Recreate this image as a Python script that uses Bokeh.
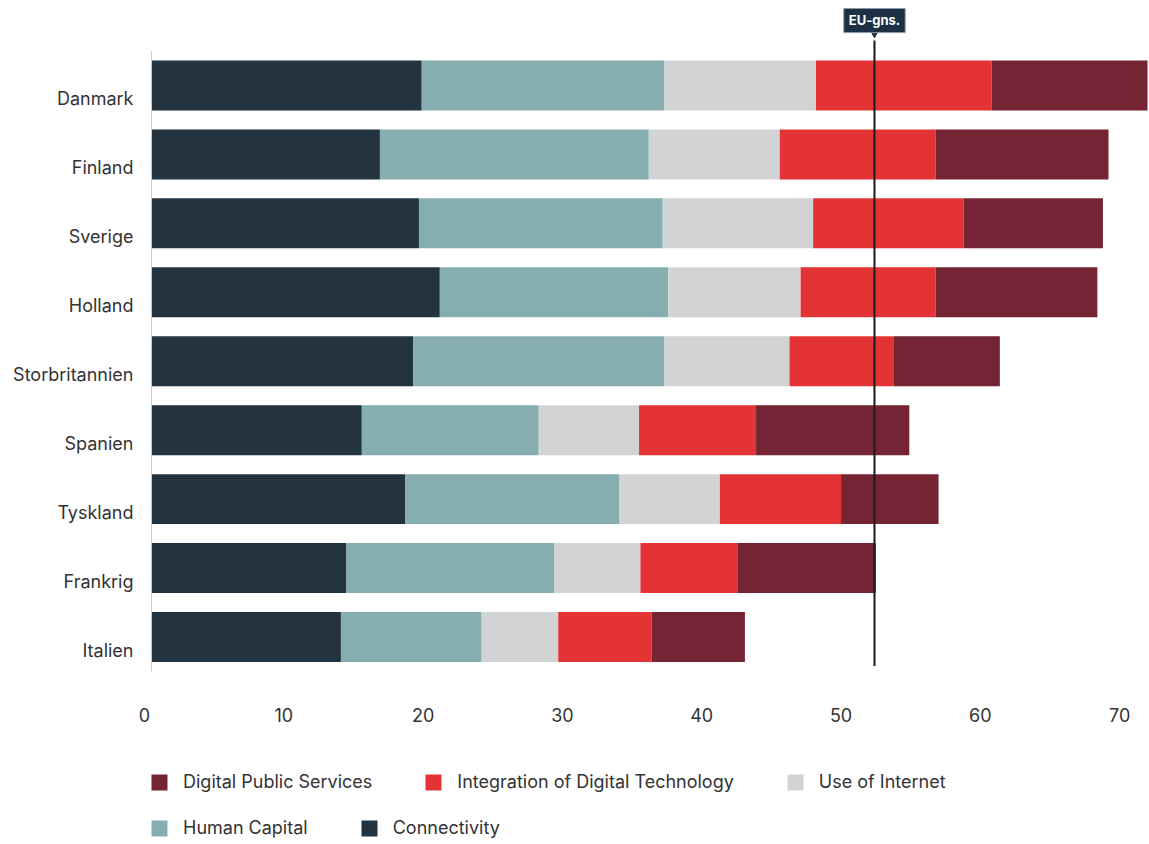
from bokeh.plotting import figure
from bokeh.layouts import column
from bokeh.models import (ColumnDataSource, Range1d, FixedTicker, Legend, LegendItem, Label)
from bokeh.embed import file_html
from bokeh.resources import INLINE

countries = ["Danmark", "Finland", "Sverige", "Holland", "Storbritannien",
             "Spanien", "Tyskland", "Frankrig", "Italien"]
connectivity = [19.4, 16.4, 19.2, 20.7, 18.8, 15.1, 18.2, 14.0, 13.6]
human_capital = [17.4, 19.3, 17.5, 16.4, 18.0, 12.7, 15.4, 14.9, 10.1]
use_of_internet = [10.9, 9.4, 10.8, 9.5, 9.0, 7.2, 7.2, 6.2, 5.5]
integration = [12.6, 11.2, 10.8, 9.7, 7.5, 8.4, 8.7, 7.0, 6.7]
public_services = [11.2, 12.4, 10.0, 11.6, 7.6, 11.0, 7.0, 9.9, 6.7]
eu_average = 51.9
x_ticks = [0, 10, 20, 30, 40, 50, 60, 70]

series_keys = ["conn", "hc", "use", "integ", "dps"]
series_names = ["Connectivity", "Human Capital", "Use of Internet",
                "Integration of Digital Technology", "Digital Public Services"]
colors = ["#233340", "#86aeb1", "#d2d3d5", "#e43334", "#752433"]

n = len(countries)
ypos = [n - 1 - i for i in range(n)]  # Danmark at top

source = ColumnDataSource(data=dict(
    y=ypos, conn=connectivity, hc=human_capital, use=use_of_internet,
    integ=integration, dps=public_services))

FONT = "Inter"
TXT = "#333333"
FS = "18px"

W = 1148
H1 = 735
LEFT = 144
p = figure(width=W, height=H1, output_backend="svg", toolbar_location=None,
           x_range=Range1d(-0.5, 71.57), y_range=Range1d(-0.5, n - 1 + 1.116),
           min_border_left=LEFT, min_border_right=0, min_border_top=8,
           min_border_bottom=H1 - 671)
p.outline_line_color = None
p.xgrid.visible = False
p.ygrid.visible = False

renderers = p.hbar_stack(series_keys, y="y", height=0.725, color=colors,
                         line_width=0, source=source)

# left axis line (only over bars area)
p.segment(x0=[0], y0=[-0.5], x1=[0], y1=[n - 0.5], line_color="#cccccc", line_width=1)

# EU average line
top_bar = n - 1
p.segment(x0=[eu_average], y0=[top_bar + 0.652], x1=[eu_average], y1=[-0.42],
          line_color="#1a1a1a", line_width=2)
p.scatter(x=[eu_average], y=[top_bar + 0.76], marker="inverted_triangle", size=8,
          fill_color="#1c3144", line_color="#1c3144")
lbl = Label(x=eu_average, y=top_bar + 0.955, text="EU-gns.", text_align="center",
            text_baseline="middle", text_color="white", text_font_style="bold",
            text_font_size="13px", text_font=FONT,
            background_fill_color="#1c3144", border_line_color="#8a9aa8",
            border_line_width=1, padding=5)
p.add_layout(lbl)

# axes (label positions nudged like the reference: x labels slightly left,
# country labels slightly below the bar centre)
x_label_shift = 0.5
x_tick_pos = [t - x_label_shift for t in x_ticks]
p.xaxis.ticker = FixedTicker(ticks=x_tick_pos)
p.xaxis.major_label_overrides = {tp: str(t) for tp, t in zip(x_tick_pos, x_ticks)}
p.xaxis.axis_line_color = None
p.xaxis.major_tick_line_color = None
p.xaxis.major_tick_out = 0
p.xaxis.major_tick_in = 0
p.xaxis.minor_tick_line_color = None
p.xaxis.major_label_standoff = 36
p.xaxis.major_label_text_font_size = FS
p.xaxis.major_label_text_font = FONT
p.xaxis.major_label_text_color = TXT

y_label_shift = 0.19
y_tick_pos = [y - y_label_shift for y in ypos]
p.yaxis.ticker = FixedTicker(ticks=y_tick_pos)
p.yaxis.major_label_overrides = {tp: c for tp, c in zip(y_tick_pos, countries)}
p.yaxis.axis_line_color = None
p.yaxis.major_tick_line_color = None
p.yaxis.major_tick_out = 0
p.yaxis.major_tick_in = 0
p.yaxis.minor_tick_line_color = None
p.yaxis.major_label_standoff = 11
p.yaxis.major_label_text_font_size = FS
p.yaxis.major_label_text_font = FONT
p.yaxis.major_label_text_color = TXT

# legend panel below
H2 = 844 - H1
lf = figure(width=W, height=H2, output_backend="svg", toolbar_location=None,
            x_range=Range1d(0, 1), y_range=Range1d(0, 1),
            min_border_left=LEFT, min_border_right=0, min_border_top=0,
            min_border_bottom=0)
lf.axis.visible = False
lf.grid.visible = False
lf.outline_line_color = None
legend_rs = [lf.hbar(y=[-10], left=[0], right=[1], height=1, color=c, line_width=0)
             for c in colors]


def make_legend(idx, loc):
    items = [LegendItem(label=series_names[i], renderers=[legend_rs[i]]) for i in idx]
    return Legend(items=items, orientation="horizontal", location=loc,
                  glyph_width=20, glyph_height=20, label_standoff=14, spacing=51,
                  padding=0, margin=0, border_line_color=None,
                  background_fill_alpha=0, label_text_font_size=FS,
                  label_text_font=FONT, label_text_color=TXT, label_height=20)


lf.add_layout(make_legend([4, 3, 2], (5, 52)))
lf.add_layout(make_legend([1, 0], (5, 6)))

layout = column(p, lf, spacing=0)
open("out.html", "w").write(file_html(layout, INLINE))
